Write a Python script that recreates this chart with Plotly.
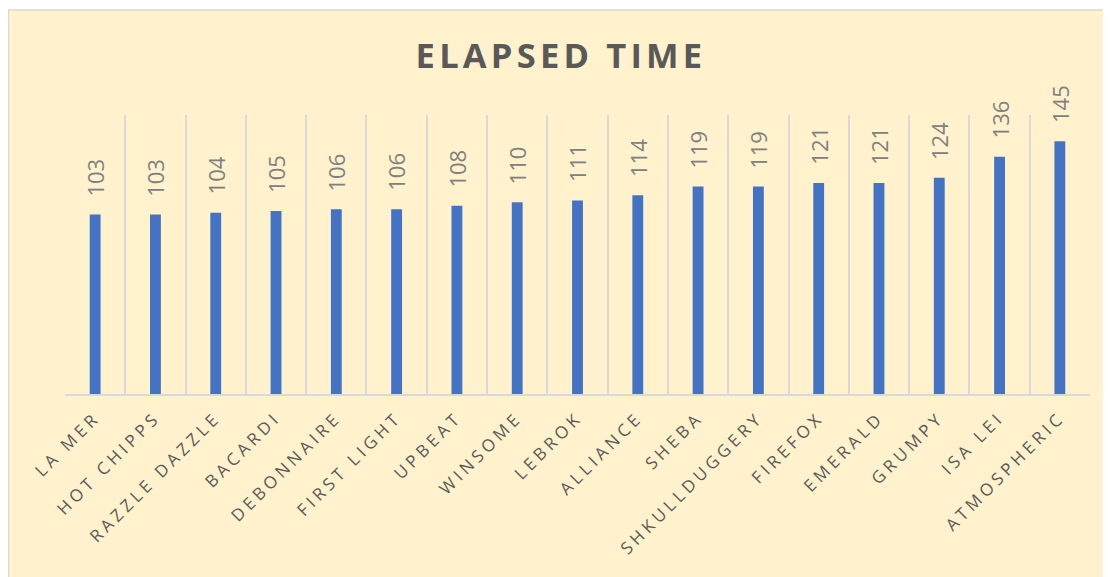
import plotly.graph_objects as go

boats = ["LA MER", "HOT CHIPPS", "RAZZLE DAZZLE", "BACARDI", "DEBONNAIRE",
         "FIRST LIGHT", "UPBEAT", "WINSOME", "LEBROK", "ALLIANCE", "SHEBA",
         "SHKULLDUGGERY", "FIREFOX", "EMERALD", "GRUMPY", "ISA LEI", "ATMOSPHERIC"]
elapsed = [103, 103, 104, 105, 106, 106, 108, 110, 111, 114, 119, 119, 121, 121, 124, 136, 145]
title_text = "ELAPSED TIME"

# page body has an 8px margin, so the figure sits 8px right/down
W, H = 1103, 569
L, T = 57, 107
pw, ph = 1025, 279
R, B = W - L - pw, H - T - ph

fig = go.Figure()
fig.add_trace(go.Bar(x=boats, y=elapsed, marker=dict(color="#4472C4", line=dict(width=0)),
                     width=0.18, hoverinfo="x+y"))

for b, v in zip(boats, elapsed):
    fig.add_annotation(x=b, y=v, text=str(v), textangle=-90, showarrow=False,
                       xanchor="center", yanchor="bottom", yshift=16,
                       font=dict(family="Open Sans", size=22, color="#808080"))

# outer panel
fig.add_shape(type="rect", xref="paper", yref="paper", layer="below",
              x0=(0.5 - L) / pw, x1=(W + 5 - L) / pw,
              y0=(T + ph - (H + 5)) / ph, y1=(T + ph - 2) / ph,
              fillcolor="#FFF2CC", line=dict(color="#D9D9D9", width=1.5))

ticktext = ['<span style="letter-spacing:4px">%s</span>' % b for b in boats]

fig.update_layout(
    width=W, height=H,
    margin=dict(l=L, r=R, t=T, b=B, autoexpand=False),
    paper_bgcolor="white", plot_bgcolor="rgba(0,0,0,0)",
    showlegend=False,
    title=dict(text='<b><span style="letter-spacing:4.2px">%s</span></b>' % title_text,
               x=553 / W, xanchor="center", y=1 - 48 / H, yanchor="middle",
               font=dict(family="Open Sans", size=34.5, color="#595959")),
    xaxis=dict(type="category", tickson="boundaries", showgrid=True, gridcolor="#D9D9D9",
               gridwidth=1.5, showline=True, linecolor="#D9D9D9", linewidth=2,
               ticks="", tickangle=-45, ticklabelstandoff=5,
               tickmode="array", tickvals=boats, ticktext=ticktext,
               tickfont=dict(family="Open Sans", size=17, color="#595959"),
               range=[-0.5, len(boats) - 0.5]),
    yaxis=dict(range=[0, 160], visible=False, showgrid=False, zeroline=False),
)

fig.write_html("out.html")
